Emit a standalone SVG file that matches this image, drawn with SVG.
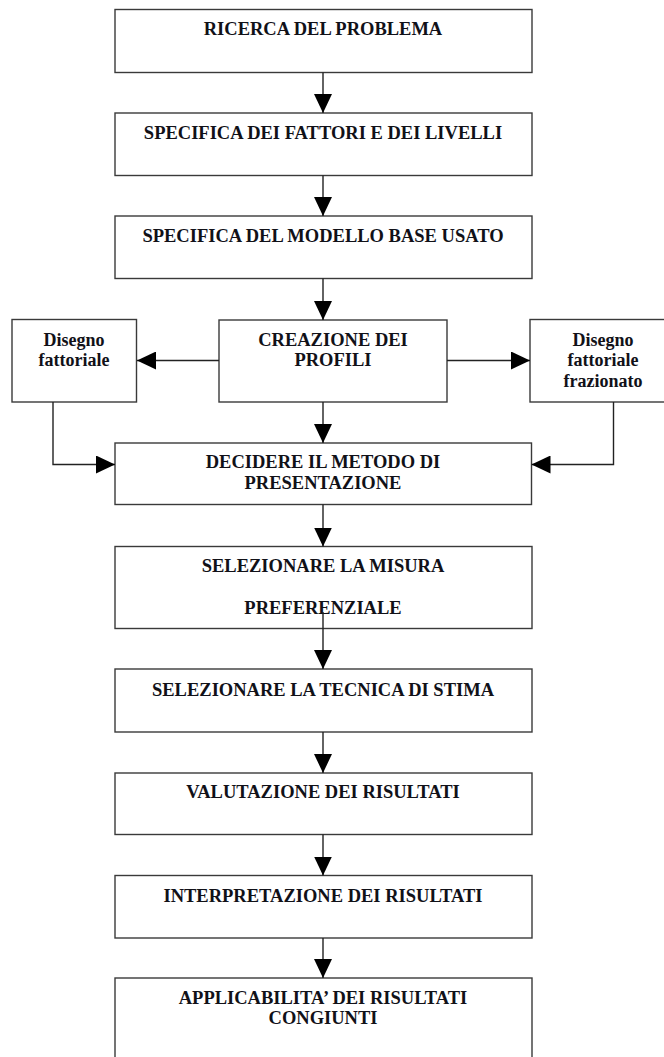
<svg xmlns="http://www.w3.org/2000/svg" width="664" height="1057" viewBox="0 0 664 1057">
  <style>
    .box { fill: #ffffff; stroke: #3a3a3a; stroke-width: 1.4; }
    .lbl { font-family: "Liberation Serif", "Times New Roman", serif; font-weight: bold; font-size: 18.5px; fill: #111118; text-anchor: middle; }
    .sub { font-size: 18px; }
    .wire { fill: none; stroke: #222222; stroke-width: 1.4; marker-end: url(#head); }
  </style>
  <defs>
    <marker id="head" viewBox="0 0 19 18" refX="19" refY="9" markerWidth="19" markerHeight="18" markerUnits="userSpaceOnUse" orient="auto">
      <path d="M0,0 L19,9 L0,18 Z" fill="#000000"/>
    </marker>
  </defs>
  <rect width="664" height="1057" fill="#ffffff"/>

  <g id="ricerca">
    <rect class="box" x="115" y="9.5" width="417" height="63"/>
    <text class="lbl" x="323" y="35">RICERCA DEL PROBLEMA</text>
  </g>
  <g id="fattori-livelli">
    <rect class="box" x="115" y="113" width="417" height="62.5"/>
    <text class="lbl" x="323" y="139">SPECIFICA DEI FATTORI E DEI LIVELLI</text>
  </g>
  <g id="modello-base">
    <rect class="box" x="115" y="216" width="417" height="62.5"/>
    <text class="lbl" x="323" y="242">SPECIFICA DEL MODELLO BASE USATO</text>
  </g>
  <g id="creazione-profili">
    <rect class="box" x="219" y="320" width="228" height="82"/>
    <text class="lbl" x="333" y="346">CREAZIONE DEI</text>
    <text class="lbl" x="333" y="366">PROFILI</text>
  </g>
  <g id="disegno-fattoriale">
    <rect class="box" x="12" y="319.5" width="124.5" height="82.5"/>
    <text class="lbl sub" x="74" y="346">Disegno</text>
    <text class="lbl sub" x="74" y="366">fattoriale</text>
  </g>
  <g id="disegno-frazionato">
    <rect class="box" x="530" y="319.5" width="146" height="82.5"/>
    <text class="lbl sub" x="603" y="346">Disegno</text>
    <text class="lbl sub" x="603" y="366">fattoriale</text>
    <text class="lbl sub" x="603" y="386.5">frazionato</text>
  </g>
  <g id="metodo-presentazione">
    <rect class="box" x="115" y="443" width="416.5" height="61.5"/>
    <text class="lbl" x="323" y="468">DECIDERE IL METODO DI</text>
    <text class="lbl" x="323" y="489">PRESENTAZIONE</text>
  </g>
  <g id="misura-preferenziale">
    <rect class="box" x="115" y="546.5" width="417" height="82"/>
    <text class="lbl" x="323" y="572">SELEZIONARE LA MISURA</text>
    <text class="lbl" x="323" y="614">PREFERENZIALE</text>
  </g>
  <g id="tecnica-stima">
    <rect class="box" x="115" y="669" width="417" height="63"/>
    <text class="lbl" x="323" y="696">SELEZIONARE LA TECNICA DI STIMA</text>
  </g>
  <g id="valutazione">
    <rect class="box" x="115" y="773" width="417" height="61.5"/>
    <text class="lbl" x="323" y="797.5">VALUTAZIONE DEI RISULTATI</text>
  </g>
  <g id="interpretazione">
    <rect class="box" x="115" y="875.5" width="417" height="62.5"/>
    <text class="lbl" x="323" y="902">INTERPRETAZIONE DEI RISULTATI</text>
  </g>
  <g id="applicabilita">
    <rect class="box" x="115" y="978" width="417" height="90"/>
    <text class="lbl" x="323" y="1003.5">APPLICABILITA’ DEI RISULTATI</text>
    <text class="lbl" x="323" y="1024">CONGIUNTI</text>
  </g>

  <!-- connectors drawn last: the line leaving the preference box crosses its lower label -->
  <g id="connectors">
    <line class="wire" x1="323" y1="72.5" x2="323" y2="113"/>
    <line class="wire" x1="323" y1="175.5" x2="323" y2="216"/>
    <line class="wire" x1="323" y1="278.5" x2="323" y2="320"/>
    <line class="wire" x1="219" y1="360.5" x2="137" y2="360.5"/>
    <line class="wire" x1="447" y1="360.5" x2="530" y2="360.5"/>
    <line class="wire" x1="323" y1="402" x2="323" y2="443"/>
    <polyline class="wire" points="53,402 53,464.5 115,464.5"/>
    <polyline class="wire" points="613.5,402 613.5,464.5 531.5,464.5"/>
    <line class="wire" x1="323" y1="504.5" x2="323" y2="546.5"/>
    <line class="wire" x1="323" y1="612" x2="323" y2="669"/>
    <line class="wire" x1="323" y1="732" x2="323" y2="773"/>
    <line class="wire" x1="323" y1="834.5" x2="323" y2="875.5"/>
    <line class="wire" x1="323" y1="938" x2="323" y2="978"/>
  </g>
</svg>
